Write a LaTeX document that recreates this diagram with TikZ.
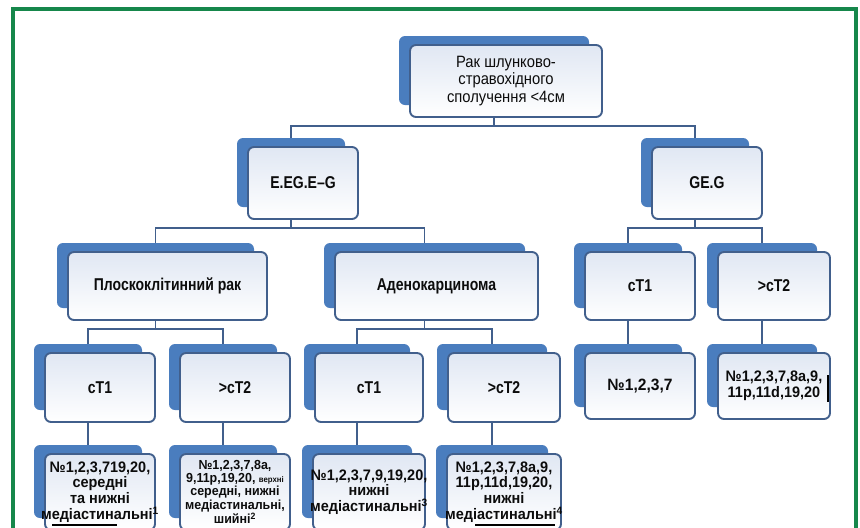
\documentclass[tikz,border=0pt]{standalone}
\usepackage{fontspec}
\setmainfont{Liberation Sans}
\newfontfamily\narrowf{Liberation Sans}[FakeStretch=0.9]
\newfontfamily\condf{Liberation Sans}[FakeStretch=0.82]
\newfontfamily\leaff{Liberation Sans}[FakeStretch=0.95]
\definecolor{backc}{RGB}{74,125,190}
\definecolor{borderc}{RGB}{65,95,140}
\definecolor{fillc}{RGB}{224,231,243}
\definecolor{framec}{RGB}{22,135,75}
\definecolor{txtc}{RGB}{12,12,12}
\tikzset{
  frontbox/.style={draw=borderc, line width=1.6pt, rounded corners=0.18cm,
    top color=fillc, bottom color=white},
  textbox/.style={inner sep=0pt, align=center, text=txtc},
  backbox/.style={fill=backc, rounded corners=0.18cm},
  conn/.style={draw=borderc, line width=1.7pt},
  lbl/.style={font=\condf\bfseries\fontsize{14.6}{16}\selectfont},
  topf/.style={font=\narrowf\fontsize{14}{15}\selectfont},
  leaf/.style={font=\leaff\bfseries\fontsize{13}{13.4}\selectfont},
  leafbig/.style={font=\leaff\bfseries\fontsize{14}{15}\selectfont},
  leafsm/.style={font=\leaff\bfseries\fontsize{11.2}{11.3}\selectfont},
  artif/.style={draw=black, line width=1pt}
}
% name, cx, cy, w, h, style, text
\newcommand\mkbox[7]{%
  \fill[backbox] (#2-#4/2-11,#3-#5/2-9) rectangle (#2+#4/2-13,#3+#5/2-12);
  \path[frontbox] (#2-#4/2,#3-#5/2) rectangle (#2+#4/2,#3+#5/2);
  \node[textbox,#6,minimum width=#4*0.03cm,minimum height=#5*0.03cm] (#1) at (#2,#3) {#7};
}
\begin{document}
\begin{tikzpicture}[x=0.03cm,y=-0.03cm]
\useasboundingbox (0,0) rectangle (860,527);
\clip (0,0) rectangle (860,527);
\fill[white] (0,0) rectangle (860,527);
\draw[framec, line width=3.4pt] (13,545) -- (13,9) -- (856,9) -- (856,545);

\mkbox{top}{506}{81}{192}{72}{topf}{Рак шлунково-\\стравохідного\\сполучення <4см}
\mkbox{eeg}{303}{183}{110}{72}{lbl}{E.EG.E–G}
\mkbox{geg}{707}{183}{110}{72}{lbl}{GE.G}
\mkbox{plosk}{167.5}{286}{199}{68}{lbl}{Плоскоклітинний рак}
\mkbox{adeno}{436.5}{286}{203}{68}{lbl}{Аденокарцинома}
\mkbox{gct1}{640}{286}{110}{68}{lbl}{cT1}
\mkbox{gct2}{774}{286}{112}{68}{lbl}{>cT2}
\mkbox{pct1}{100}{387.5}{110}{69}{lbl}{cT1}
\mkbox{pct2}{235}{387.5}{110}{69}{lbl}{>cT2}
\mkbox{act1}{369}{387.5}{108}{69}{lbl}{cT1}
\mkbox{act2}{504}{387.5}{112}{69}{lbl}{>cT2}
\mkbox{gl1}{640}{386}{110}{66}{leafbig}{№1,2,3,7}
\mkbox{gl2}{774}{386}{112}{66}{leaf}{№1,2,3,7,8a,9,\\11p,11d,19,20}
\mkbox{pl1}{100}{492}{110}{76}{leaf}{№1,2,3,719,20,\\середні\\та нижні\\медіастинальні\textsuperscript{1}}
\mkbox{pl2}{235}{492}{110}{76}{leafsm}{№1,2,3,7,8a,\\9,11p,19,20, {\fontsize{7}{7}\selectfont верхні}\\середні, нижні\\медіастинальні,\\шийні\textsuperscript{2}}
\mkbox{al1}{369}{492}{112}{76}{leaf}{№1,2,3,7,9,19,20,\\нижні\\медіастинальні\textsuperscript{3}}
\mkbox{al2}{504}{492}{114}{76}{leaf}{№1,2,3,7,8a,9,\\11p,11d,19,20,\\нижні\\медіастинальні\textsuperscript{4}}

% connectors
\def\cx{-0.36cm}
\def\cy{0.27cm}
\draw[conn] ([xshift=\cx]top.south) -- ++(0,9) coordinate (h1);
\draw[conn] ([xshift=\cx,yshift=\cy]eeg.north) |- (h1) -| ([xshift=\cx,yshift=\cy]geg.north);
\draw[conn] ([xshift=\cx]eeg.south) -- ++(0,9) coordinate (h2);
\draw[conn] ([xshift=\cx,yshift=\cy]plosk.north) |- (h2) -| ([xshift=\cx,yshift=\cy]adeno.north);
\draw[conn] ([xshift=\cx]geg.south) -- ++(0,9) coordinate (h3);
\draw[conn] ([xshift=\cx,yshift=\cy]gct1.north) |- (h3) -| ([xshift=\cx,yshift=\cy]gct2.north);
\draw[conn] ([xshift=\cx]plosk.south) -- ++(0,9) coordinate (h4);
\draw[conn] ([xshift=\cx,yshift=\cy]pct1.north) |- (h4) -| ([xshift=\cx,yshift=\cy]pct2.north);
\draw[conn] ([xshift=\cx]adeno.south) -- ++(0,9) coordinate (h5);
\draw[conn] ([xshift=\cx,yshift=\cy]act1.north) |- (h5) -| ([xshift=\cx,yshift=\cy]act2.north);
\draw[conn] ([xshift=\cx]gct1.south) -- ([xshift=\cx,yshift=\cy]gl1.north);
\draw[conn] ([xshift=\cx]gct2.south) -- ([xshift=\cx,yshift=\cy]gl2.north);
\draw[conn] ([xshift=\cx]pct1.south) -- ([xshift=\cx,yshift=\cy]pl1.north);
\draw[conn] ([xshift=\cx]pct2.south) -- ([xshift=\cx,yshift=\cy]pl2.north);
\draw[conn] ([xshift=\cx]act1.south) -- ([xshift=\cx,yshift=\cy]al1.north);
\draw[conn] ([xshift=\cx]act2.south) -- ([xshift=\cx,yshift=\cy]al2.north);

% scan marks
\draw[artif] (52,525) -- (117,525);
\draw[artif] (475,525) -- (555,525);
\draw[artif] (828,375) -- (828,402);
\end{tikzpicture}
\end{document}
